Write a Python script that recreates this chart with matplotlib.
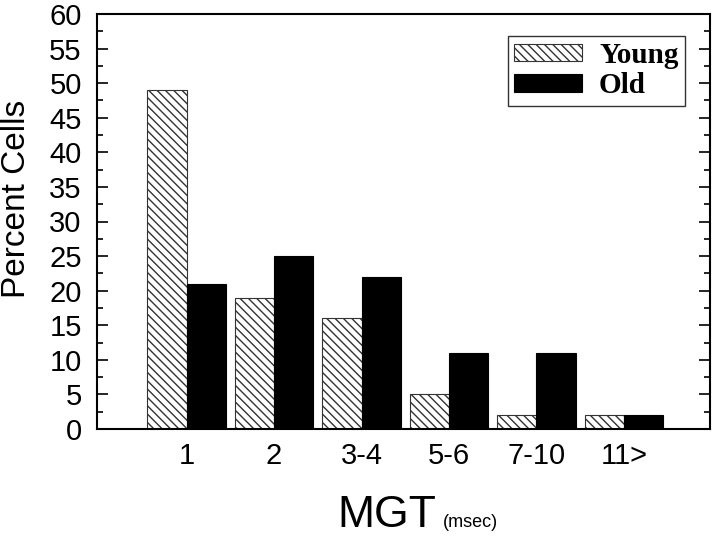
import matplotlib
matplotlib.use("Agg")
import matplotlib.pyplot as plt
import numpy as np
from matplotlib.ticker import MultipleLocator

# percent of cells per MGT bin
groups = ["1", "2", "3-4", "5-6", "7-10", "11>"]
young = [49, 19, 16, 5, 2, 2]
old = [21, 25, 22, 11, 11, 2]

plt.rcParams['font.family'] = ['Liberation Sans', 'DejaVu Sans']
plt.rcParams['hatch.linewidth'] = 1.0

fig = plt.figure(figsize=(7.2, 5.36), dpi=100)
ax = fig.add_axes([97/720, (536-429)/536, 613/720, 415/536])

x = np.arange(len(groups))
w = 0.451
ax.bar(x - w/2, young, w, color='white', edgecolor='#333333', linewidth=0.8,
       hatch='\\\\\\\\', label='Young')
ax.bar(x + w/2, old, w, color='black', edgecolor='black', linewidth=0.8,
       label='Old')

ax.set_xlim(-1.023, 5.983)
ax.set_ylim(0, 60)
ax.set_xticks(x)
ax.set_xticklabels(groups)
ax.yaxis.set_major_locator(MultipleLocator(5))
ax.yaxis.set_minor_locator(MultipleLocator(2.5))
ax.tick_params(axis='x', length=0, labelsize=21, pad=9)
ax.tick_params(axis='y', which='major', direction='in', length=8, width=1.2,
               labelsize=21, pad=11, right=True)
ax.tick_params(axis='y', which='minor', direction='in', length=4.5, width=1.2,
               right=True)
for s in ax.spines.values():
    s.set_linewidth(1.5)

leg = ax.legend(loc='upper right', bbox_to_anchor=(0.959, 0.948),
                prop={'family': 'Liberation Serif', 'weight': 'bold', 'size': 21},
                frameon=True, fancybox=False, edgecolor='black',
                handlelength=2.3, handleheight=0.55, handletextpad=0.6,
                borderpad=0.22, labelspacing=0.12, borderaxespad=0)
leg.get_frame().set_linewidth(1.0)

fig.text(17/720, (536-199)/536, "Percent Cells", rotation=90, fontsize=24,
         ha='center', va='center')
fig.text(337/720, (536-527)/536, "MGT", fontsize=32, ha='left', va='baseline')
fig.text(443/720, (536-527)/536, "(msec)", fontsize=13, ha='left', va='baseline')

fig.savefig("out.png", dpi=100)
